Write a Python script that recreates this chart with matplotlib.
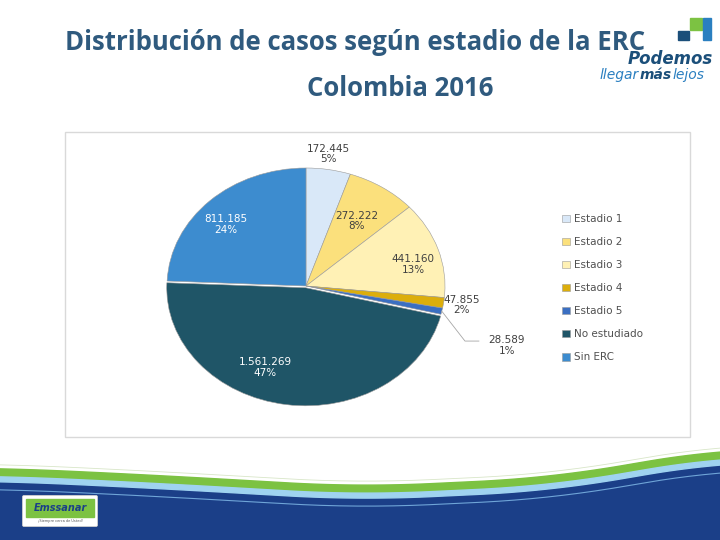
import numpy as np
import matplotlib
matplotlib.use('Agg')
from matplotlib import pyplot as plt
from matplotlib.patches import Rectangle, FancyBboxPatch

categories = ['Estadio 1', 'Estadio 2', 'Estadio 3', 'Estadio 4', 'Estadio 5', 'No estudiado', 'Sin ERC']
cases = [172445, 272222, 441160, 47855, 28589, 1561269, 811185]
value_labels = ['172.445', '272.222', '441.160', '47.855', '28.589', '1.561.269', '811.185']
pct_labels = ['5%', '8%', '13%', '2%', '1%', '47%', '24%']

colors = ['#d9e8f8', '#fbe07c', '#fff1b5', '#dcae0c', '#3b6fc2', '#1f5567', '#3d8ccf']
text_colors = ['#404040', '#404040', '#404040', '#404040', '#404040', 'white', 'white']
label_radius = [1.13, 0.66, 0.79, 1.13, 1.53, 0.75, 0.78]
label_shift = [1, 0, -5, 0, -7, -15, 4]
title_color = '#2f5a7e'

fig = plt.figure(figsize=(7.2, 5.4), dpi=100)
fig.patch.set_facecolor('white')

# background decoration, pixel coords
bg = fig.add_axes([0, 0, 1, 1], zorder=0)
bg.set_xlim(0, 720)
bg.set_ylim(540, 0)
bg.axis('off')
xs = np.linspace(0, 720, 400)
wave = np.interp(xs, [0, 150, 360, 550, 720], [474, 481, 493, 484, 455])
wave = np.convolve(np.pad(wave, 40, mode='edge'), np.ones(81) / 81, mode='valid')
bg.fill_between(xs, wave + 7, 540, color='#1b3f88')
bg.fill_between(xs, wave - 6, wave + 2, color='#7cc242')
bg.fill_between(xs, wave + 2, wave + 7, color='#9fd3f0')
bg.plot(xs, wave + 15, color='#6fa5d8', lw=0.8)
bg.plot(xs, wave - 10, color='#d8e6c8', lw=0.6)

bg.add_patch(Rectangle((65, 132), 625, 305, fill=False, ec='#d9d9d9', lw=1))

bg.add_patch(FancyBboxPatch((24, 497), 72, 28, boxstyle='round,pad=1.5', fc='white', ec='#cfcfcf', lw=0.6))
bg.add_patch(Rectangle((26, 499), 68, 18, color='#7cc242'))
bg.text(60, 508, 'Emssanar', ha='center', va='center', fontsize=7, color='#1b3f88',
        fontweight='bold', style='italic', family='DejaVu Sans')
bg.text(60, 521, '¡Siempre cerca de Usted!', ha='center', va='center', fontsize=2.5, color='#555555')

bg.text(65, 43, 'Distribución de casos según estadio de la ERC', ha='left', va='center',
        fontsize=18.5, fontweight='bold', color=title_color, family='Open Sans')
bg.text(400, 88, 'Colombia 2016', ha='center', va='center',
        fontsize=18.5, fontweight='bold', color=title_color, family='Open Sans')

# "Podemos llegar más lejos" logo
bg.text(713, 59, 'Podemos', ha='right', va='center', fontsize=12, color='#1b4f7a',
        style='italic', fontweight='bold', family='DejaVu Sans', zorder=4)
bg.text(639, 75, 'llegar', ha='right', va='center', fontsize=10, color='#2a7fc0', style='italic', zorder=4)
bg.text(640, 75, 'más', ha='left', va='center', fontsize=10, color='#1b4f7a', style='italic',
        fontweight='bold', zorder=4)
bg.text(673, 75, 'lejos', ha='left', va='center', fontsize=10, color='#2a7fc0', style='italic', zorder=4)
bg.add_patch(Rectangle((690, 18), 12, 12, color='#7cc242', zorder=4))
bg.add_patch(Rectangle((703, 18), 8, 22, color='#2a7fc0', zorder=4))
bg.add_patch(Rectangle((678, 31), 11, 9, color='#1b4f7a', zorder=4))

# pie
ax = fig.add_axes([167 / 720, 136 / 540, 278 / 720, 236 / 540], zorder=2)
wedges, _ = ax.pie(cases, colors=colors, startangle=90, counterclock=False,
                   explode=[0, 0, 0, 0, 0, 0.015, 0],
                   wedgeprops=dict(edgecolor='#9a9a9a', linewidth=0.4))
ax.set_aspect('auto')
ax.set_xlim(-1.0, 1.0)
ax.set_ylim(-1.0, 1.0)

for i, w in enumerate(wedges):
    mid = np.deg2rad((w.theta1 + w.theta2) / 2 + label_shift[i])
    r = label_radius[i]
    x, y = r * np.cos(mid), r * np.sin(mid)
    ax.text(x, y, value_labels[i] + '\n' + pct_labels[i], ha='center', va='center', fontsize=7.5,
            color=text_colors[i], linespacing=1.1, clip_on=False)
    if categories[i] == 'Estadio 5':
        m = np.deg2rad((w.theta1 + w.theta2) / 2)
        ex, ey = np.cos(m), np.sin(m)
        ax.plot([ex, x - 0.3, x - 0.2], [ey, y + 0.04, y + 0.04], color='#a6a6a6', lw=0.6, clip_on=False)

fig.legend(wedges, categories, loc='upper left', bbox_to_anchor=(553 / 720, 1 - 205 / 540),
           frameon=False, fontsize=7.5, labelspacing=1.25, handlelength=0.7, handleheight=0.7,
           handletextpad=0.4, labelcolor='#505050')

fig.savefig('out.png', dpi=100)
